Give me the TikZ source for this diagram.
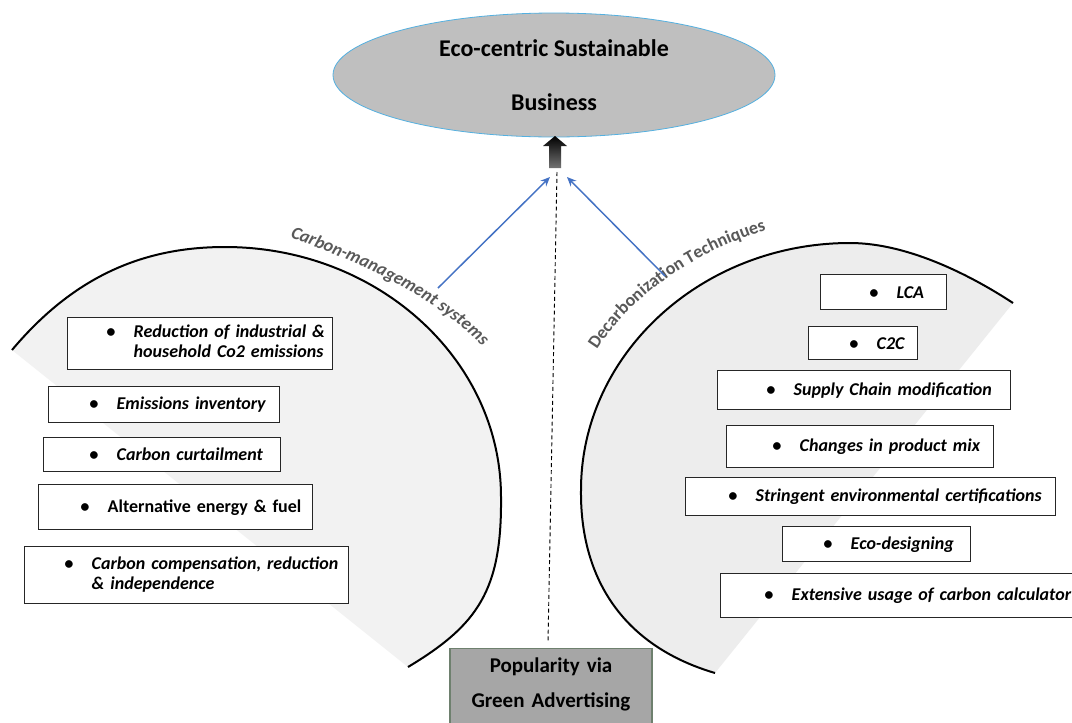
\documentclass[tikz,border=0pt]{standalone}
\usepackage{fontspec}
\setmainfont{Carlito}
\usetikzlibrary{arrows.meta,shapes.geometric,decorations.text,calc}
\definecolor{ellfill}{HTML}{BFBFBF}
\definecolor{ellborder}{RGB}{84,176,224}
\definecolor{leftfill}{HTML}{F2F2F2}
\definecolor{rightfill}{HTML}{EDEDED}
\definecolor{popfill}{HTML}{A6A6A6}
\definecolor{popborder}{RGB}{110,128,110}
\definecolor{arrowblue}{HTML}{4472C4}
\definecolor{labelgray}{HTML}{595959}
\definecolor{boxline}{HTML}{262626}
\newcommand\bitem[2]{\hspace*{#1}\makebox[0pt]{\textbullet}\hspace{17.25pt}#2}
\newcommand\twoline[2]{\begin{tabular}[t]{@{}l@{}}#1\\#2\end{tabular}}
\begin{document}
\begin{tikzpicture}[x=0.75pt,y=-0.75pt,
  itembox/.style={draw=boxline, line width=1.1pt, fill=white, rectangle,
    inner xsep=0pt, inner ysep=0pt, anchor=north west, align=left,
    font=\fontsize{13.5pt}{15pt}\selectfont\bfseries\itshape},
  arcline/.style={line width=1.5pt, black},
  bluearrow/.style={draw=arrowblue, line width=1.1pt, -{Stealth[length=7pt,width=6pt]}},
  curvelabel/.style={decorate}
]
\useasboundingbox (0,0) rectangle (1072,722);
\fill[white] (0,0) rectangle (1072,722);

% left chord
\fill[leftfill] (12,350) .. controls (75,275) and (145,247) .. (225,247)
  .. controls (377,247) and (501,359) .. (501,497)
  .. controls (502,590) and (478,625) .. (408,667) -- cycle;
\draw[arcline] (12,350) .. controls (75,275) and (145,247) .. (225,247)
  .. controls (377,247) and (501,359) .. (501,497)
  .. controls (502,590) and (478,625) .. (408,667);

% right chord
\fill[rightfill] (715,673) .. controls (620,645) and (580,575) .. (581,490)
  .. controls (581,354) and (702,243) .. (850,243)
  .. controls (910,243) and (975,278) .. (1013,303) -- cycle;
\draw[arcline] (715,673) .. controls (620,645) and (580,575) .. (581,490)
  .. controls (581,354) and (702,243) .. (850,243)
  .. controls (910,243) and (975,278) .. (1013,303);

% curved labels
\path[curvelabel, decoration={text along path, text align=left,
  text={|\fontsize{13.5pt}{15pt}\selectfont\bfseries\itshape\color{labelgray}|Carbon-management systems}}]
  (290,237) .. controls (372,268) and (442,300) .. (496,360);
\path[curvelabel, decoration={text along path, text align=left,
  text={|\fontsize{13.5pt}{15pt}\selectfont\bfseries\color{labelgray}|Decarbonization Techniques}}]
  (597,350) .. controls (634,292) and (700,248) .. (780,226);

% left boxes
\node[itembox, text width=198.75pt, minimum height=39pt] (l1) at (67,317)
  {\bitem{32.25pt}{\twoline{Reduction of industrial \&}{household Co2 emissions}}};
\node[itembox, text width=173.25pt, minimum height=27pt] (l2) at (48,386)
  {\bitem{33.75pt}{Emissions inventory}};
\node[itembox, text width=177.75pt, minimum height=25.5pt] (l3) at (43,437)
  {\bitem{37.5pt}{Carbon curtailment}};
\node[itembox, text width=205.5pt, minimum height=33.75pt] (l4) at (38,484)
  {\bitem{34.5pt}{\upshape Alternative energy \& fuel}};
\node[itembox, text width=243pt, minimum height=42.75pt] (l5) at (24,546)
  {\bitem{33pt}{\twoline{Carbon compensation, reduction}{\& independence}}};

% right boxes
\node[itembox, text width=94.5pt, minimum height=26.25pt] (r1) at (820,274)
  {\bitem{39.75pt}{LCA}};
\node[itembox, text width=81.75pt, minimum height=24.75pt] (r2) at (808,326)
  {\bitem{33.75pt}{C2C}};
\node[itembox, text width=219.75pt, minimum height=29.25pt] (r3) at (717,370)
  {\bitem{39.75pt}{\mbox{Supply Chain modification}}};
\node[itembox, text width=200.25pt, minimum height=31.5pt] (r4) at (726,425)
  {\bitem{37.5pt}{\mbox{Changes in product mix}}};
\node[itembox, text width=277.5pt, minimum height=28.5pt] (r5) at (685,477)
  {\bitem{35.25pt}{\mbox{Stringent environmental certifications}}};
\node[itembox, text width=141pt, minimum height=26.25pt] (r6) at (782,526)
  {\bitem{33.75pt}{\mbox{Eco-designing}}};
\node[itembox, text width=264pt, minimum height=33pt] (r7) at (720,573)
  {\bitem{36pt}{\mbox{Extensive usage of carbon calculator}}};

% top ellipse
\node[ellipse, draw=ellborder, line width=0.6pt, fill=ellfill,
  minimum width=331.5pt, minimum height=93pt, inner sep=0pt, align=center,
  font=\fontsize{18pt}{40.5pt}\selectfont\bfseries] (top) at (554,75)
  {Eco-centric Sustainable\\Business};

% black block arrow
\shade[top color=black, bottom color=black!55] (549,168) -- (549,146) -- (543,146) -- (555,136) -- (567,146) -- (561,146) -- (561,168) -- cycle;
\coordinate (abase) at (557,172);

% popularity box
\node[draw=popborder, line width=0.8pt, fill=popfill, anchor=north,
  text width=151.5pt, inner xsep=0pt, inner ysep=6.8pt, align=center,
  text depth=40pt,
  font=\fontsize{15.75pt}{26.25pt}\selectfont\bfseries] (pop) at (551,648)
  {Popularity via\\Green Advertising};

% connectors
\draw[dashed, line width=0.7pt, dash pattern=on 3pt off 2.2pt] (abase) -- ($(pop.north)+(-3,-6)$);
\coordinate (lstart) at (438,288);
\coordinate (lend) at (550,177);
\coordinate (rstart) at (665,276);
\coordinate (rend) at (567,177);
\draw[bluearrow] (lstart) -- (lend);
\draw[bluearrow] (rstart) -- (rend);
\end{tikzpicture}
\end{document}
